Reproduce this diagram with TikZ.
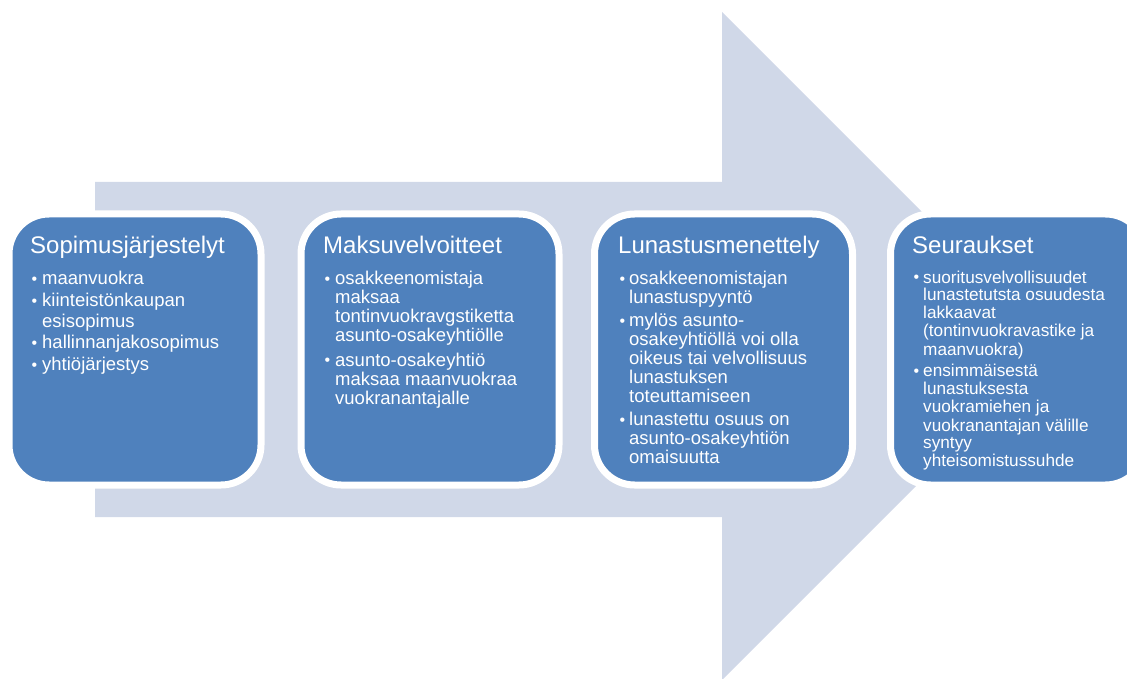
\documentclass[tikz,border=0pt]{standalone}
\usepackage{fontspec}
\setmainfont{Liberation Sans}
\definecolor{boxblue}{HTML}{4F81BD}
\definecolor{arrowgray}{HTML}{D0D8E8}
\newlength\myhang
\setlength\myhang{12pt}
\newcommand{\bitem}[1]{\par\hangindent=\myhang\hangafter=1\noindent\makebox[\myhang][l]{\hspace{1.5pt}\raisebox{0.3pt}{\fontsize{16}{16}\selectfont •}}#1}
\newcommand{\ttl}[1]{{\fontsize{24}{24}\selectfont #1\par}}
\newcommand{\bfnt}[3]{\fontsize{#1}{#2}\selectfont\setlength{\parskip}{#3}}
\tikzset{
  box/.style={draw=white, line width=7pt, fill=boxblue, rounded corners=40pt, minimum width=#1, minimum height=271pt, inner sep=0pt},
  txt/.style={anchor=base west, inner sep=0pt, text=white}
}
\begin{document}
\begin{tikzpicture}[x=1pt,y=-1pt]
\useasboundingbox (0,0) rectangle (1127,679);
\clip (0,0) rectangle (1127,679);
\fill[arrowgray] (95,182) -- (722,182) -- (722,12) -- (1056,346) -- (722,680) -- (722,517) -- (95,517) -- cycle;
\node[box=252pt] (b1) at (135,349.5) {};
\node[box=258pt] (b2) at (430,349.5) {};
\node[box=258pt] (b3) at (723.5,349.5) {};
\node[box=255pt] (b4) at (1018,349.5) {};
\node[txt] (t1) at (30,254) {\parbox[t]{250pt}{\ttl{Sopimusjärjestelyt}\vspace{9.5pt}\bfnt{18.5}{21}{0.5pt}%
\bitem{maanvuokra}\bitem{kiinteistönkaupan\newline esisopimus}\bitem{hallinnanjakosopimus}\bitem{yhtiöjärjestys}\par}};
\node[txt] (t2) at (323,254) {\parbox[t]{250pt}{\ttl{Maksuvelvoitteet}\vspace{7pt}\bfnt{18.5}{19}{5pt}%
\bitem{osakkeenomistaja\newline maksaa\newline tontinvuokravgstiketta\newline asunto-osakeyhtiölle}\bitem{asunto-osakeyhtiö\newline maksaa maanvuokraa\newline vuokranantajalle}\par}};
\node[txt] (t3) at (618,254) {\parbox[t]{250pt}{\ttl{Lunastusmenettely}\vspace{8pt}\bfnt{18.5}{19}{4pt}\setlength\myhang{11pt}%
\bitem{osakkeenomistajan\newline lunastuspyyntö}\bitem{mylös asunto-\newline osakeyhtiöllä voi olla\newline oikeus tai velvollisuus\newline lunastuksen\newline toteuttamiseen}\bitem{lunastettu osuus on\newline asunto-osakeyhtiön\newline omaisuutta}\par}};
\node[txt] (t4) at (912,254) {\parbox[t]{250pt}{\ttl{Seuraukset}\vspace{7pt}\bfnt{17.2}{18}{4pt}\setlength\myhang{11pt}%
\bitem{suoritusvelvollisuudet\newline lunastetutsta osuudesta\newline lakkaavat\newline (tontinvuokravastike ja\newline maanvuokra)}\bitem{ensimmäisestä\newline lunastuksesta\newline vuokramiehen ja\newline vuokranantajan välille\newline syntyy\newline yhteisomistussuhde}\par}};
\end{tikzpicture}
\end{document}
